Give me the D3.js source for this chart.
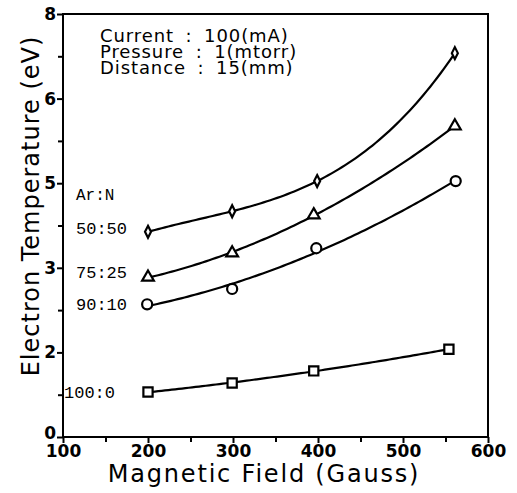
<!DOCTYPE html>
<html>
<head>
<meta charset="utf-8">
<script src="https://cdn.jsdelivr.net/npm/d3@7"></script>
<style>
  body { margin: 0; background: #fff; }
  svg { display: block; }
  .axis path, .axis line { stroke: #000; stroke-width: 2; }
  .axis text { font-family: "DejaVu Sans", sans-serif; font-weight: bold; font-size: 17px; fill: #000; }
  .curve { fill: none; stroke: #000; stroke-width: 2.2; }
  .mark { fill: #fff; stroke: #000; stroke-width: 2.2; }
</style>
</head>
<body>
<div id="chart"></div>
<script>
/* ===== Data ===== */
const mixLabels = ["50:50", "75:25", "90:10", "100:0"];
const markerTypes = ["diamond", "triangle", "circle", "square"];

const field5050 = [200, 299, 399, 561];
const temp5050 = [3.88, 4.27, 4.84, 7.26];

const field7525 = [200, 299, 395, 561];
const temp7525 = [3.02, 3.48, 4.20, 5.88];

const field9010 = [199, 299, 398, 562];
const temp9010 = [2.51, 2.80, 3.57, 4.84];

const field1000 = [200, 299, 395, 554];
const temp1000 = [0.85, 1.02, 1.25, 1.66];

const xTicks = [100, 200, 300, 400, 500, 600];
const yTicks = [0, 1.6, 3.2, 4.8, 6.4, 8];
const conditions = ["Current : 100(mA)", "Pressure : 1(mtorr)", "Distance : 15(mm)"];

// polynomial order of each fitted curve
const fitOrder = [3, 2, 2, 2];

const series = mixLabels.map((label, i) => ({
  label,
  marker: markerTypes[i],
  order: fitOrder[i],
  x: [field5050, field7525, field9010, field1000][i],
  y: [temp5050, temp7525, temp9010, temp1000][i]
}));

/* ===== Layout ===== */
const W = 517, H = 493;
const margin = { top: 14, right: 29, bottom: 56, left: 63 };
const width = W - margin.left - margin.right;
const height = H - margin.top - margin.bottom;

const svg = d3.select("#chart").append("svg")
  .attr("width", W).attr("height", H);
const g = svg.append("g")
  .attr("transform", `translate(${margin.left},${margin.top})`);

const x = d3.scaleLinear().domain([100, 600]).range([0, width]);
const y = d3.scaleLinear().domain([0, 8]).range([height, 0]);

/* ===== Frame ===== */
g.append("rect")
  .attr("width", width).attr("height", height)
  .attr("fill", "none").attr("stroke", "#000").attr("stroke-width", 2);

/* ===== Axes ===== */
// minor ticks
g.append("g").attr("class", "axis")
  .attr("transform", `translate(0,${height})`)
  .call(d3.axisBottom(x).tickValues(d3.range(150, 600, 100)).tickSize(5).tickFormat(""))
  .select(".domain").remove();
g.append("g").attr("class", "axis")
  .call(d3.axisLeft(y).tickValues(d3.range(0.8, 8, 1.6)).tickSize(5).tickFormat(""))
  .select(".domain").remove();

const xAxis = g.append("g").attr("class", "axis")
  .attr("transform", `translate(0,${height})`)
  .call(d3.axisBottom(x).tickValues(xTicks).tickSize(6).tickPadding(2).tickSizeOuter(0));
xAxis.select(".domain").remove();

const yAxis = g.append("g").attr("class", "axis")
  .call(d3.axisLeft(y).tickValues(yTicks).tickSize(6).tickPadding(1)
    .tickFormat(d3.format(".0f")).tickSizeOuter(0));
yAxis.select(".domain").remove();
yAxis.selectAll(".tick text").filter(d => d === 0).attr("dy", "0.1em");

/* ===== Axis titles ===== */
svg.append("text")
  .attr("x", 264).attr("y", 482)
  .attr("text-anchor", "middle")
  .style("font-family", "DejaVu Sans, sans-serif").style("font-size", "24px")
  .style("letter-spacing", "1.8px")
  .text("Magnetic Field (Gauss)");

svg.append("text")
  .attr("transform", "translate(39,206) rotate(-90)")
  .attr("text-anchor", "middle")
  .style("font-family", "DejaVu Sans, sans-serif").style("font-size", "24px")
  .style("letter-spacing", "1px")
  .text("Electron Temperature (eV)");

/* ===== Conditions ===== */
g.append("g").selectAll("text")
  .data(conditions)
  .join("text")
  .attr("x", 37).attr("y", (d, i) => 28 + i * 16)
  .style("font-family", "DejaVu Sans, sans-serif").style("font-size", "18px")
  .style("letter-spacing", "0.9px").style("word-spacing", "5px")
  .text(d => d);

/* ===== Fitted curves (least-squares polynomial) ===== */
function polyFit(xs, ys, deg) {
  const m = deg + 1;
  const A = d3.range(m).map(() => new Array(m + 1).fill(0));
  xs.forEach((xv, i) => {
    const u = (xv - 300) / 100;
    for (let r = 0; r < m; r++) {
      for (let c = 0; c < m; c++) A[r][c] += Math.pow(u, r + c);
      A[r][m] += ys[i] * Math.pow(u, r);
    }
  });
  for (let c = 0; c < m; c++) {
    for (let r = c + 1; r < m; r++) {
      const f = A[r][c] / A[c][c];
      for (let k = c; k <= m; k++) A[r][k] -= f * A[c][k];
    }
  }
  const b = new Array(m).fill(0);
  for (let r = m - 1; r >= 0; r--) {
    let v = A[r][m];
    for (let k = r + 1; k < m; k++) v -= A[r][k] * b[k];
    b[r] = v / A[r][r];
  }
  return xv => {
    const u = (xv - 300) / 100;
    return b.reduce((acc, bk, k) => acc + bk * Math.pow(u, k), 0);
  };
}

const line = d3.line().x(d => x(d[0])).y(d => y(d[1]));

series.forEach(s => {
  const f = polyFit(s.x, s.y, s.order);
  const [x0, x1] = d3.extent(s.x);
  const xs = d3.range(x0, x1, 4).concat([x1]);
  g.append("path").attr("class", "curve")
    .attr("d", line(xs.map(xv => [xv, f(xv)])));
});

/* ===== Markers ===== */
const symbolOf = {
  diamond: "M0,-6L3,0L0,6L-3,0Z",
  triangle: d3.symbol(d3.symbolTriangle, 60)(),
  circle: d3.symbol(d3.symbolCircle, 80)(),
  square: d3.symbol(d3.symbolSquare, 85)()
};

series.forEach(s => {
  g.append("g").selectAll("path")
    .data(s.x.map((xv, i) => [xv, s.y[i]]))
    .join("path")
    .attr("class", "mark")
    .attr("transform", d => `translate(${x(d[0])},${y(d[1])})`)
    .attr("d", symbolOf[s.marker]);
});

/* ===== Series labels ===== */
const labelFont = "Liberation Mono, Courier New, monospace";
g.append("text")
  .attr("x", 13).attr("y", 186)
  .style("font-family", labelFont).style("font-size", "16px")
  .text("Ar:N");

const labelBase = [220, 264, 296, 384];
series.forEach((s, i) => {
  g.append("text")
    .attr("x", i === 3 ? 1 : 13)
    .attr("y", labelBase[i])
    .style("font-family", labelFont).style("font-size", "17px")
    .text(s.label);
});
</script>
</body>
</html>
